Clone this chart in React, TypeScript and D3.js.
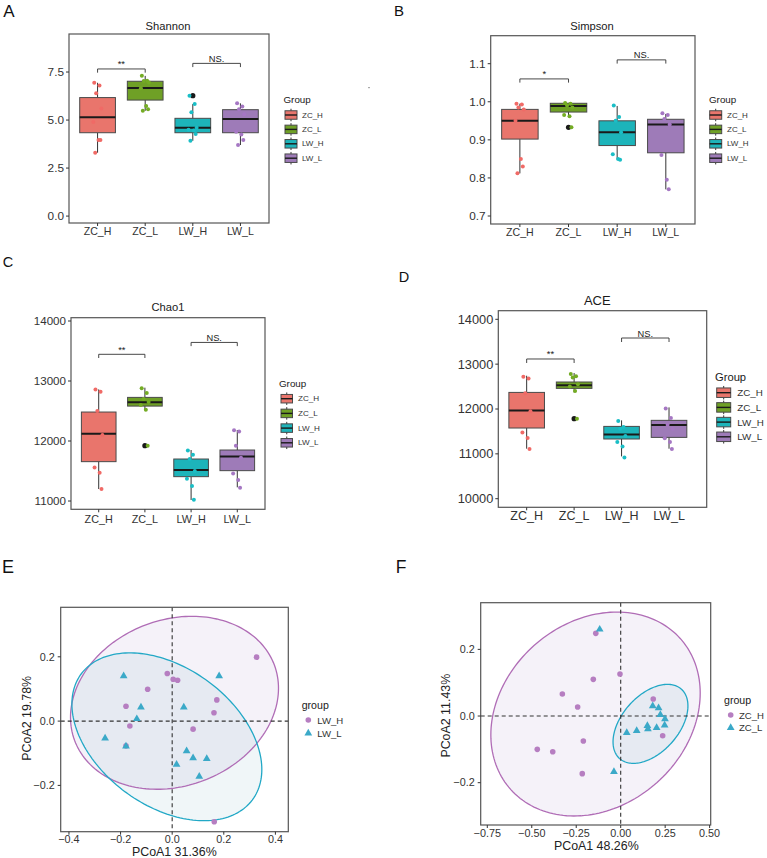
import React from "react";
import * as d3 from "d3";

const FONT = "'Liberation Sans', Arial, 'DejaVu Sans', sans-serif";

// ---------- alpha-diversity data ----------
const groups = ["ZC_H", "ZC_L", "LW_H", "LW_L"];
const boxFills = ["#E9756C", "#6FA026", "#1DB4BA", "#9E7BB8"];
const dotFills = ["#F06A66", "#74AC24", "#1ABEC6", "#A577C3"];
// horizontal jitter (fraction of the category step), cycled per sample
const jitter = [-0.07, 0.04, -0.03, 0.08, -0.09, 0.02, 0.06, -0.05];

// box stats per group: [lower whisker, Q1, median, Q3, upper whisker]
const shannonTicks = [0, 2.5, 5, 7.5];
const shannonBox = [
  [3.3, 4.34, 5.15, 6.17, 6.94],
  [5.48, 6.04, 6.67, 7.02, 7.3],
  [3.92, 4.34, 4.6, 5.09, 5.83],
  [3.7, 4.34, 5.05, 5.54, 5.87],
];
const shannonOutliers = [[], [], [6.27], []];
const shannonPoints = [
  [6.94, 6.8, 6.39, 5.6, 4.9, 3.96, 3.96, 3.3],
  [7.3, 7.05, 7.03, 6.95, 6.65, 5.73, 5.56, 5.48],
  [6.27, 5.83, 5.4, 4.6, 4.5, 4.45, 4.27, 3.92],
  [5.87, 5.7, 5.56, 5.3, 4.39, 4.25, 3.96, 3.7],
];
const shannonSig = [
  ["ZC_H", "ZC_L", 7.66, "**"],
  ["LW_H", "LW_L", 7.95, "NS."],
];

const simpsonTicks = [0.7, 0.8, 0.9, 1.0, 1.1];
const simpsonBox = [
  [0.812, 0.902, 0.95, 0.98, 0.995],
  [0.962, 0.973, 0.989, 0.996, 0.997],
  [0.848, 0.885, 0.92, 0.95, 0.989],
  [0.77, 0.866, 0.94, 0.954, 0.968],
];
const simpsonOutliers = [[], [0.933], [], []];
const simpsonPoints = [
  [0.995, 0.993, 0.985, 0.98, 0.95, 0.85, 0.83, 0.812],
  [0.997, 0.995, 0.99, 0.985, 0.965, 0.962, 0.933],
  [0.99, 0.96, 0.95, 0.92, 0.862, 0.85, 0.848],
  [0.97, 0.965, 0.955, 0.94, 0.86, 0.795, 0.77],
];
const simpsonSig = [
  ["ZC_H", "ZC_L", 1.06, "*"],
  ["LW_H", "LW_L", 1.11, "NS."],
];

const chaoTicks = [11000, 12000, 13000, 14000];
const chaoBox = [
  [11200, 11656, 12121, 12483, 12860],
  [12521, 12582, 12644, 12727, 12889],
  [11017, 11406, 11517, 11700, 11850],
  [11228, 11506, 11740, 11850, 12183],
];
const chaoOutliers = [[], [11922], [], []];
const chaoPoints = [
  [12860, 12820, 12500, 12100, 11560, 11470, 11200],
  [12880, 12800, 12700, 12650, 12600, 12520, 11922],
  [11840, 11770, 11700, 11500, 11370, 11250, 11020],
  [12180, 12160, 11920, 11720, 11460, 11350, 11220],
];
const chaoSig = [
  ["ZC_H", "ZC_L", 13445, "**"],
  ["LW_H", "LW_L", 13643, "NS."],
];

const aceTicks = [10000, 11000, 12000, 13000, 14000];
const aceBox = [
  [11115, 11576, 11969, 12370, 12742],
  [12370, 12460, 12527, 12602, 12802],
  [10943, 11331, 11434, 11612, 11746],
  [11115, 11367, 11643, 11747, 12036],
];
const aceOutliers = [[], [11784], [], []];
const acePoints = [
  [12720, 12680, 12350, 11950, 11478, 11353, 11110],
  [12780, 12730, 12700, 12550, 12500, 12400, 11784],
  [11730, 11600, 11560, 11400, 11264, 11166, 10920],
  [12010, 11799, 11650, 11560, 11350, 11264, 11110],
];
const aceSig = [
  ["ZC_H", "ZC_L", 13115, "**"],
  ["LW_H", "LW_L", 13583, "NS."],
];

// ---------- PCoA data ----------
const lwGroups = ["LW_H", "LW_L"];
const lwAxisTitles = ["PCoA1 31.36%", "PCoA2 19.78%"];
const lwXTicks = [-0.4, -0.2, 0, 0.2, 0.4];
const lwYTicks = [-0.2, 0, 0.2];
const lwH = [
  [0.327, 0.199], [-0.019, 0.148], [0.004, 0.13], [0.021, 0.127],
  [-0.095, 0.099], [0.173, 0.066], [-0.179, 0.046], [0.162, 0.026],
  [-0.164, -0.015], [0.081, -0.025], [-0.179, -0.077], [0.163, -0.313],
];
const lwL = [
  [-0.188, 0.14], [0.182, 0.14], [-0.121, 0.043], [0.045, 0.043],
  [-0.137, 0.007], [-0.26, -0.053], [-0.179, -0.078], [0.056, -0.093],
  [0.081, -0.115], [0.134, -0.117], [0.017, -0.135], [0.105, -0.172],
];
// 95% ellipses: [centre x, centre y, half-width x, half-height y, correlation]
const lwHEllipse = [0.009, 0.057, 0.403, 0.269, 0.168];
const lwLEllipse = [-0.0206, -0.0488, 0.368, 0.261, -0.39];

const zcGroups = ["ZC_H", "ZC_L"];
const zcAxisTitles = ["PCoA1 48.26%", "PCoA2 11.43%"];
const zcXTicks = [-0.75, -0.5, -0.25, 0, 0.25, 0.5];
const zcYTicks = [-0.2, 0, 0.2];
const zcH = [
  [-0.14, 0.248], [-0.154, 0.11], [-0.004, 0.126], [-0.328, 0.066],
  [-0.242, 0.027], [0.183, 0.051], [-0.21, -0.075], [-0.469, -0.1],
  [-0.382, -0.107], [-0.216, -0.173], [0.236, -0.059],
];
const zcL = [
  [-0.118, 0.26], [0.18, 0.03], [0.213, 0.024], [0.223, 0.004],
  [0.249, -0.009], [0.034, -0.05], [0.09, -0.044], [0.15, -0.029],
  [0.153, -0.039], [0.202, -0.035], [0.247, -0.028], [-0.038, -0.167],
];
const zcHEllipse = [-0.1415, 0.006, 0.5885, 0.306, 0.205];
const zcLEllipse = [0.1675, -0.0235, 0.2105, 0.1185, 0.455];

const circleColor = "#B67EC1";
const triColor = "#3BA9C8";
const ellipseStroke = ["#B06DB6", "#22A8C6"];
const ellipseFill = ["#A07CC5", "#5AA0AE"];
const ellipseAlpha = [0.1, 0.09];

// ---------- components ----------
type Legend = {
  tx: number; ty: number; kx: number; ky: number; step: number;
  kw: number; kh: number; lx: number; titleSize: number; labelSize: number;
};

type BoxProps = {
  label: string; labelPos: [number, number]; labelSize: number;
  title: string; titlePos: [number, number]; titleSize: number;
  frame: [number, number, number, number];
  xRange: [number, number];
  domain: [number, number];
  ticks: number[]; fmt: (v: number) => string;
  box: number[][]; outliers: number[][]; points: number[][]; sig: any[];
  tickSize: number; xLabelSize: number; xLabelY: number; tip: number;
  legend: Legend;
};

function BoxPanel(p: BoxProps) {
  const [x0, y0, x1, y1] = p.frame;
  const y = d3.scaleLinear().domain(p.domain).range([y1, y0]);
  const x = d3.scalePoint<string>().domain(groups).range(p.xRange).padding(0.6);
  const step = x.step();
  const bw = step * 0.75;
  const L = p.legend;
  return (
    <g fontFamily={FONT}>
      <text x={p.labelPos[0]} y={p.labelPos[1]} fontSize={p.labelSize} textAnchor="middle" dominantBaseline="central" fill="#111">
        {p.label}
      </text>
      <text x={p.titlePos[0]} y={p.titlePos[1]} fontSize={p.titleSize} textAnchor="middle" dominantBaseline="central" fill="#1a1a1a">
        {p.title}
      </text>
      {groups.map((g, i) => {
        const [lo, q1, md, q3, hi] = p.box[i];
        const cx = x(g)!;
        return (
          <g key={g}>
            <line x1={cx} x2={cx} y1={y(hi)} y2={y(q3)} stroke="#333" strokeWidth={1} />
            <line x1={cx} x2={cx} y1={y(q1)} y2={y(lo)} stroke="#333" strokeWidth={1} />
            <rect x={cx - bw / 2} y={y(q3)} width={bw} height={y(q1) - y(q3)} fill={boxFills[i]} stroke="#4a4a4a" strokeWidth={1} />
            <line x1={cx - bw / 2} x2={cx + bw / 2} y1={y(md)} y2={y(md)} stroke="#1a1a1a" strokeWidth={2} />
            {p.outliers[i].map((v, k) => (
              <circle key={k} cx={cx} cy={y(v)} r={2.6} fill="#1a1a1a" />
            ))}
          </g>
        );
      })}
      {groups.map((g, i) =>
        p.points[i].map((v, j) => (
          <circle key={g + j} cx={x(g)! + jitter[j % jitter.length] * step} cy={y(v)} r={2} fill={dotFills[i]} />
        ))
      )}
      <rect x={x0} y={y0} width={x1 - x0} height={y1 - y0} fill="none" stroke="#555" strokeWidth={1.2} />
      {p.ticks.map((t) => (
        <g key={t}>
          <line x1={x0 - 3} x2={x0} y1={y(t)} y2={y(t)} stroke="#333" strokeWidth={1} />
          <text x={x0 - 5} y={y(t)} dy="0.35em" textAnchor="end" fontSize={p.tickSize} fill="#333">
            {p.fmt(t)}
          </text>
        </g>
      ))}
      {groups.map((g) => (
        <g key={g}>
          <line x1={x(g)} x2={x(g)} y1={y1} y2={y1 + 3} stroke="#333" strokeWidth={1} />
          <text x={x(g)} y={p.xLabelY} dominantBaseline="central" textAnchor="middle" fontSize={p.xLabelSize} fill="#333">
            {g}
          </text>
        </g>
      ))}
      {p.sig.map(([a, b, v, lab]: any) => {
        const xa = x(a)!;
        const xb = x(b)!;
        const yy = y(v);
        return (
          <g key={a}>
            <path d={`M${xa},${yy + p.tip}V${yy}H${xb}V${yy + p.tip}`} fill="none" stroke="#333" strokeWidth={0.9} />
            <text x={(xa + xb) / 2} y={yy - 1.5} textAnchor="middle" fontSize={9.3} fill="#222">
              {lab}
            </text>
          </g>
        );
      })}
      <text x={L.tx} y={L.ty} dominantBaseline="central" fontSize={L.titleSize} fill="#1a1a1a">
        Group
      </text>
      {groups.map((g, i) => {
        const cy = L.ky + i * L.step;
        const kx = L.kx;
        return (
          <g key={g}>
            <line x1={kx + L.kw / 2} x2={kx + L.kw / 2} y1={cy - L.kh / 2 - 2} y2={cy + L.kh / 2 + 2} stroke="#333" strokeWidth={1} />
            <rect x={kx} y={cy - L.kh / 2} width={L.kw} height={L.kh} fill={boxFills[i]} stroke="#4a4a4a" strokeWidth={1} />
            <line x1={kx} x2={kx + L.kw} y1={cy} y2={cy} stroke="#1a1a1a" strokeWidth={1.4} />
            <text x={L.lx} y={cy} dominantBaseline="central" fontSize={L.labelSize} fill="#333">
              {g}
            </text>
          </g>
        );
      })}
    </g>
  );
}

type PcoaProps = {
  label: string; labelPos: [number, number]; labelSize: number;
  frame: [number, number, number, number];
  xDomain: [number, number]; yDomain: [number, number];
  xTicks: number[]; yTicks: number[]; fmtX: (v: number) => string;
  circles: number[][]; triangles: number[][];
  ellipses: number[][]; names: string[]; axisTitles: string[];
  xTickY: number; xTitlePos: [number, number]; yTitlePos: [number, number];
  legend: { tx: number; ty: number; sx: number; y1: number; y2: number; lx: number };
};

function PcoaPanel(p: PcoaProps) {
  const [x0, y0, x1, y1] = p.frame;
  const x = d3.scaleLinear().domain(p.xDomain).range([x0, x1]);
  const y = d3.scaleLinear().domain(p.yDomain).range([y1, y0]);
  const tri = d3.symbol().type(d3.symbolTriangle).size(26)()!;
  const ellipsePath = (e: number[]) => {
    const [cx, cy, rx, ry, c] = e;
    const phi = Math.acos(c);
    const pts = d3.range(0, 180).map((k) => {
      const t = (k / 180) * 2 * Math.PI;
      return [x(cx + rx * Math.cos(t)), y(cy + ry * Math.cos(t - phi))] as [number, number];
    });
    return d3.line().curve(d3.curveLinearClosed)(pts)!;
  };
  const L = p.legend;
  return (
    <g fontFamily={FONT}>
      <text x={p.labelPos[0]} y={p.labelPos[1]} fontSize={p.labelSize} textAnchor="middle" dominantBaseline="central" fill="#111">
        {p.label}
      </text>
      {p.ellipses.map((e, i) => (
        <path key={"f" + i} d={ellipsePath(e)} fill={ellipseFill[i]} fillOpacity={ellipseAlpha[i]} stroke="none" />
      ))}
      {p.ellipses.map((e, i) => (
        <path key={"s" + i} d={ellipsePath(e)} fill="none" stroke={ellipseStroke[i]} strokeWidth={1.3} />
      ))}
      <line x1={x(0)} x2={x(0)} y1={y0} y2={y1} stroke="#333" strokeWidth={1.1} strokeDasharray="4,3" />
      <line x1={x0} x2={x1} y1={y(0)} y2={y(0)} stroke="#333" strokeWidth={1.1} strokeDasharray="4,3" />
      {p.circles.map((d, i) => (
        <circle key={"c" + i} cx={x(d[0])} cy={y(d[1])} r={2.8} fill={circleColor} />
      ))}
      {p.triangles.map((d, i) => (
        <path key={"t" + i} d={tri} transform={`translate(${x(d[0])},${y(d[1])})`} fill={triColor} />
      ))}
      <rect x={x0} y={y0} width={x1 - x0} height={y1 - y0} fill="none" stroke="#555" strokeWidth={1.2} />
      {p.xTicks.map((t) => (
        <g key={t}>
          <line x1={x(t)} x2={x(t)} y1={y1} y2={y1 + 3} stroke="#333" />
          <text x={x(t)} y={p.xTickY} dominantBaseline="central" textAnchor="middle" fontSize={10.8} fill="#333">
            {p.fmtX(t)}
          </text>
        </g>
      ))}
      {p.yTicks.map((t) => (
        <g key={t}>
          <line x1={x0 - 3} x2={x0} y1={y(t)} y2={y(t)} stroke="#333" />
          <text x={x0 - 6} y={y(t)} dy="0.35em" textAnchor="end" fontSize={10.8} fill="#333">
            {d3.format(".1f")(t)}
          </text>
        </g>
      ))}
      <text x={p.xTitlePos[0]} y={p.xTitlePos[1]} dominantBaseline="central" textAnchor="middle" fontSize={12.4} fill="#222">
        {p.axisTitles[0]}
      </text>
      <text transform={`translate(${p.yTitlePos[0]},${p.yTitlePos[1]}) rotate(-90)`} dominantBaseline="central" textAnchor="middle" fontSize={12.4} fill="#222">
        {p.axisTitles[1]}
      </text>
      <text x={L.tx} y={L.ty} dominantBaseline="central" fontSize={10.6} fill="#1a1a1a">
        group
      </text>
      <circle cx={L.sx} cy={L.y1} r={2.8} fill={circleColor} />
      <text x={L.lx} y={L.y1} dominantBaseline="central" fontSize={9.6} fill="#333">
        {p.names[0]}
      </text>
      <path d={tri} transform={`translate(${L.sx},${L.y2})`} fill={triColor} />
      <text x={L.lx} y={L.y2} dominantBaseline="central" fontSize={9.6} fill="#333">
        {p.names[1]}
      </text>
    </g>
  );
}

const f1 = d3.format(".1f");
const f0 = d3.format("d");

export default function App() {
  return (
    <svg width={767} height={858} style={{ position: "absolute", left: 0, top: 0, background: "#fff" }}>
      <rect x={0} y={0} width={767} height={858} fill="#fff" />
      <BoxPanel
        label="A" labelPos={[9, 11]} labelSize={17}
        title="Shannon" titlePos={[168, 26]} titleSize={11.2}
        frame={[69, 34, 269, 223]} xRange={[69, 269]} domain={[-0.36, 9.48]}
        ticks={shannonTicks} fmt={f1}
        box={shannonBox} outliers={shannonOutliers} points={shannonPoints} sig={shannonSig}
        tickSize={11.8} xLabelSize={10.6} xLabelY={230.5} tip={3.7}
        legend={{ tx: 283.5, ty: 99, kx: 285, ky: 115, step: 14.4, kw: 12, kh: 8.5, lx: 302, titleSize: 9.8, labelSize: 8 }}
      />
      <rect x={368} y={87} width={2} height={1.2} fill="#aaa" />
      <BoxPanel
        label="B" labelPos={[399, 10]} labelSize={15}
        title="Simpson" titlePos={[592, 26]} titleSize={11.2}
        frame={[490.7, 35.7, 695, 224]} xRange={[490.7, 695]} domain={[0.679, 1.1735]}
        ticks={simpsonTicks} fmt={f1}
        box={simpsonBox} outliers={simpsonOutliers} points={simpsonPoints} sig={simpsonSig}
        tickSize={11.8} xLabelSize={10.6} xLabelY={232.3} tip={3.7}
        legend={{ tx: 709, ty: 99, kx: 709.7, ky: 115, step: 14.4, kw: 12, kh: 8.5, lx: 727, titleSize: 9.8, labelSize: 8 }}
      />
      <BoxPanel
        label="C" labelPos={[8, 262]} labelSize={14.5}
        title="Chao1" titlePos={[168, 307]} titleSize={11.2}
        frame={[71, 317.7, 265, 509.3]} xRange={[71, 265]} domain={[10862, 14055]}
        ticks={chaoTicks} fmt={f0}
        box={chaoBox} outliers={chaoOutliers} points={chaoPoints} sig={chaoSig}
        tickSize={11.6} xLabelSize={10.8} xLabelY={519.3} tip={3.7}
        legend={{ tx: 279, ty: 383.3, kx: 281, ky: 398.7, step: 14.7, kw: 11.5, kh: 8.5, lx: 298, titleSize: 9.8, labelSize: 8.1 }}
      />
      <BoxPanel
        label="D" labelPos={[404, 277]} labelSize={14.5}
        title="ACE" titlePos={[597.3, 300]} titleSize={13}
        frame={[498.3, 310.7, 706.7, 507.3]} xRange={[498.2, 697.5]} domain={[9808, 14192]}
        ticks={aceTicks} fmt={f0}
        box={aceBox} outliers={aceOutliers} points={acePoints} sig={aceSig}
        tickSize={12.8} xLabelSize={12.5} xLabelY={516} tip={4}
        legend={{ tx: 715, ty: 377.3, kx: 716.7, ky: 392.7, step: 14.7, kw: 14, kh: 9.5, lx: 737.3, titleSize: 11.2, labelSize: 9.8 }}
      />
      <PcoaPanel
        label="E" labelPos={[8, 567]} labelSize={18}
        frame={[60.7, 607.3, 288.3, 831.7]} xDomain={[-0.432, 0.45]} yDomain={[-0.344, 0.354]}
        xTicks={lwXTicks} yTicks={lwYTicks} fmtX={f1}
        circles={lwH} triangles={lwL} ellipses={[lwHEllipse, lwLEllipse]}
        names={lwGroups} axisTitles={lwAxisTitles}
        xTickY={839.3} xTitlePos={[174.3, 851.5]} yTitlePos={[26.7, 718.3]}
        legend={{ tx: 301.7, ty: 705, sx: 308.3, y1: 720, y2: 733.3, lx: 317.3 }}
      />
      <PcoaPanel
        label="F" labelPos={[401, 567]} labelSize={17.5}
        frame={[480.7, 602.7, 710.7, 825]} xDomain={[-0.787, 0.506]} yDomain={[-0.327, 0.34]}
        xTicks={zcXTicks} yTicks={zcYTicks} fmtX={d3.format(".2f")}
        circles={zcH} triangles={zcL} ellipses={[zcHEllipse, zcLEllipse]}
        names={zcGroups} axisTitles={zcAxisTitles}
        xTickY={833.3} xTitlePos={[596.3, 846]} yTitlePos={[445.7, 715.7]}
        legend={{ tx: 724, ty: 700, sx: 730.7, y1: 715, y2: 727.7, lx: 739 }}
      />
    </svg>
  );
}
